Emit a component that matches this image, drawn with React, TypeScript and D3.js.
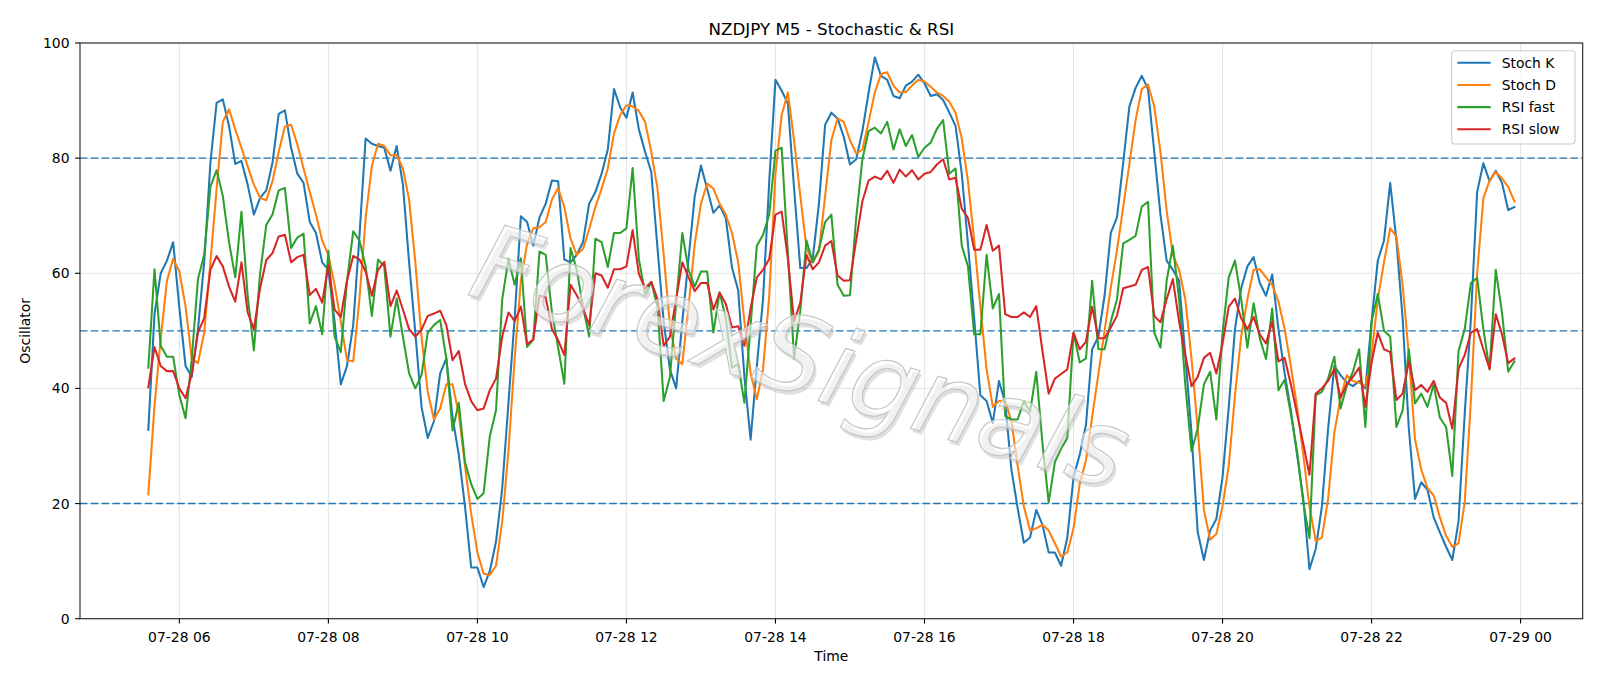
import React from "react";
import * as d3 from "d3";

// ---- data (5-minute bars, 07-28 05:35 .. 07-28 23:55) ----
const START_UTC = Date.UTC(2024, 6, 28, 5, 35);
const STEP_MINUTES = 5;

const stochK = [
  32.8, 52.9, 60, 62.2, 65.4, 54, 43.9, 42, 50.3, 61.9, 79.2, 89.6, 90.2, 85.6, 79, 79.5, 75.4, 70.2, 73.1, 74.4, 79.2, 87.7, 88.3, 81.8, 77.3, 75.7, 68.9, 67, 61.9, 60.6, 51.6, 40.7, 43.9, 51, 66.4, 83.4, 82.5, 82.1,
  81.8, 77.8, 82.1, 75.4, 61.9, 49.7, 36.8, 31.4, 34.3, 42.6, 45.2, 34.9, 28.5, 19.5, 8.9, 8.9, 5.5, 8.3, 13.4, 22.7, 37.5, 52.2, 69.9, 68.9, 64.8, 69.7, 72.1, 76.1, 76, 62.4, 61.9, 63.2, 65.4, 72.1, 74.1, 77.3, 81.5, 92,
  88.8, 87, 91.4, 85, 81.1, 77.6, 64.4, 51.6, 43.3, 40, 51.6, 62.5, 73.4, 78.7, 74.7, 70.5, 71.8, 69.6, 61, 57, 42, 31.1, 43.9, 55.5, 76, 93.6, 91.7, 89.5, 74.7, 60.9, 60.9, 62.5, 72.1, 85.8, 87.9, 86.9, 83.7,
  78.9, 79.8, 84.7, 91.4, 97.5, 94.3, 93.6, 90.8, 90.4, 92.6, 93.3, 94.5, 93, 90.8, 91.1, 90.1, 87.9, 85.6, 77.3, 65.1, 52.2, 38.8, 37.8, 34, 41.3, 37.5, 25.9, 19.2, 13.2, 14.1, 18.9, 16.3, 11.5, 11.5, 9.2, 14.1, 24.6, 28.5,
  33.6, 46.8, 49, 56.1, 67, 69.7, 79.2, 89, 92.2, 94.3, 92, 81.1, 70.2, 62.2, 60.6, 58.7, 45.8, 32.3, 15, 10.2, 15.3, 17.3, 24.6, 36.8, 50.3, 57.4, 61.2, 62.8, 58.3, 56.1, 59.8, 50.3, 42.6, 36.2, 28.5, 20.8, 8.6,
  12.1, 19.5, 33, 43.9, 42.3, 41, 40.4, 41.3, 40, 51.6, 62.2, 65.7, 75.7, 65.7, 52.2, 33, 20.8, 23.7, 22.4, 17.6, 15, 12.5, 10.2, 16.9, 35.6, 52.2, 74.1, 79.1, 76, 77.8, 75.7, 71, 71.5,
];

const stochD = [
  21.6, 37, 48.6, 58.7, 62.5, 60.3, 54.2, 45.2, 44.4, 49.7, 61.9, 74.7, 86.3, 88.5, 85, 81.8, 78.6, 75.4, 73.1, 72.7, 76, 81.1, 85.5, 85.8, 82.4, 78.2, 74.1, 70.2, 65.7, 63.2, 58, 51.6, 44.9, 44.7, 55.5, 69.6, 78.6, 82.5,
  82.1, 80.5, 80.5, 78.2, 72.8, 61.9, 49, 39.4, 34.6, 36.5, 40.7, 40.7, 35.6, 26.6, 18.2, 11.5, 7.8, 7.6, 9.2, 16.9, 29.1, 45.2, 58.7, 65.1, 67.8, 68, 68.9, 72.8, 74.8, 71.5, 66, 63.2, 64.2, 67.7, 71.5, 74.7, 78.2, 84.3,
  87.5, 89.2, 89, 88.2, 86.3, 81.1, 74.7, 63.2, 51, 45.2, 44.2, 54.2, 65.1, 72.1, 75.6, 74.7, 72.1, 70.2, 67, 61.9, 51.6, 42.6, 38.1, 43.3, 56.1, 77.3, 87.5, 91.4, 83.1, 73.4, 64.4, 61.9, 63.8, 73.4, 83.1, 86.9, 86.3,
  83.1, 80.8, 81.5, 86.3, 91.4, 94.6, 94.9, 92.6, 91.4, 91.5, 92.6, 93.6, 93.3, 92.4, 91.4, 90.8, 89.8, 87.9, 83.4, 76, 65.7, 54.2, 43.3, 36.8, 37.8, 37.8, 34.3, 26.6, 19.5, 15.3, 15.7, 16.3, 15.3, 13.1, 10.8, 11.5, 15.7, 23.4,
  27.5, 35, 42.5, 50, 57.5, 64, 71.5, 79, 86.6, 92, 92.8, 89, 81.1, 70.9, 63.2, 60.6, 55.5, 45.2, 33, 18.9, 13.7, 14.7, 19.5, 26.6, 38.8, 49, 55.5, 60.6, 60.7, 59.3, 58, 55.1, 50.3, 43.9, 36.8, 28.5, 19.5,
  13.5, 14.1, 20.8, 32.3, 38.3, 42.3, 41.3, 41, 40.4, 45.8, 55.5, 61.9, 67.8, 66.4, 58, 45.8, 31.1, 25.9, 22.7, 21.4, 17.6, 14.4, 12.5, 13.1, 20.2, 38, 60, 73, 76.1, 77.6, 76.5, 75, 72.5,
];

const rsiFast = [
  43.6, 60.7, 47.4, 45.5, 45.5, 38.8, 34.8, 45.2, 59, 63.2, 75, 77.9, 73.4, 65.4, 59.3, 70.7, 56.1, 46.6, 59.9, 68.4, 70.2, 74.4, 74.8, 64.4, 66.2, 66.9, 51.3, 54.3, 49.4, 63.9, 49, 46.3, 58.7, 67.3, 65.7, 61.2, 52.6, 62.4,
  61.2, 49, 55.6, 49, 42.6, 40, 42.3, 49.7, 51, 51.9, 45.2, 32.7, 37.5, 27.2, 23.4, 20.8, 21.8, 31.7, 36.2, 55.5, 62.5, 58, 62.6, 47.2, 48.5, 63.8, 63.2, 53.2, 47.1, 40.8, 64.4, 60.6, 54.2, 49, 66, 65.4, 61.1, 67,
  67, 67.8, 78.3, 62.5, 56.4, 58.5, 54.2, 37.8, 42, 54.8, 67, 60.6, 57.7, 60.3, 60.3, 49.7, 56.7, 52.2, 43.6, 44.2, 37.5, 51, 64.8, 66.7, 70.2, 81.3, 81.8, 63.5, 45.2, 53.5, 65.7, 61.9, 64.1, 68.9, 70.2, 58, 56.1,
  56.2, 69.6, 79.8, 84.7, 85.3, 84.3, 86.3, 81.5, 85, 82.1, 84, 80.2, 81.8, 82.7, 85.1, 86.6, 77.3, 78.2, 64.8, 61.2, 49.4, 49.4, 63.2, 53.9, 56.4, 35.2, 34.6, 34.6, 37.8, 35.9, 42.9, 30.4, 20.2, 27.2, 29.5, 31.4, 49.7, 44.5,
  45.2, 58.7, 46.8, 46.8, 51.6, 55.5, 65.2, 65.8, 66.5, 71.6, 72.4, 49.7, 47.1, 58.7, 64.8, 55.5, 40.7, 29.1, 33, 40.7, 42.9, 34.6, 49.7, 59.3, 62.2, 55.5, 47.1, 54.8, 48.7, 45.1, 53.9, 39.7, 41.5, 35.6, 29.1, 20.2, 14,
  38.8, 39.4, 41.7, 45.5, 36.5, 40.4, 42.9, 46.8, 33.3, 51.6, 56.4, 50, 49, 33.3, 36.2, 46.8, 37.4, 39.1, 36.8, 40.7, 34.9, 33.3, 24.8, 46.5, 50.3, 58.3, 59.2, 50.3, 43.3, 60.6, 53.2, 42.9, 44.7,
];

const rsiSlow = [
  40.2, 47.2, 43.9, 43, 43, 40, 38.3, 42.6, 49.7, 52.2, 60.6, 63, 61.2, 57.7, 55.1, 61.9, 53.2, 50.3, 57.4, 62.3, 63.5, 66.4, 66.7, 61.9, 62.8, 63.2, 56.2, 57.3, 54.9, 61.4, 53.7, 52.4, 58.7, 63, 62.4, 60.3, 56.1, 60.6,
  62, 54.3, 57, 53.7, 50.3, 49, 50.2, 52.6, 53, 53.5, 51, 44.9, 46.5, 40.8, 37.8, 36.2, 36.5, 39.7, 41.7, 49, 53.2, 51.7, 54.2, 47.7, 48.5, 56.1, 55.8, 50.3, 48.4, 45.8, 58, 56.2, 53.9, 51, 60, 59.6, 57.5, 60.7,
  60.7, 61.2, 67.5, 59.9, 57.4, 58.5, 55.5, 47.4, 49, 55.5, 61.9, 59.3, 56.9, 58.3, 58.3, 53.7, 56.6, 54.7, 50.6, 50.8, 47.4, 53.9, 59.3, 60.6, 62.5, 70.2, 70.7, 62.5, 51.6, 54.9, 63.2, 60.7, 61.9, 64.8, 65.6, 59.6, 58.7,
  58.8, 65.7, 72.5, 76.1, 76.8, 76.3, 77.8, 75.7, 78, 76.8, 77.9, 76.3, 77.3, 77.6, 78.9, 79.8, 76.3, 76.6, 71.2, 69.6, 64.1, 64.1, 68.4, 63.9, 64.8, 52.9, 52.4, 52.4, 53.2, 52.4, 54.3, 46.5, 39.1, 41.7, 42.5, 43.3, 49.7, 46.8,
  48.1, 54.2, 48.7, 48.7, 50.6, 52.6, 57.4, 57.7, 58, 60.6, 61.1, 52.6, 51.5, 55.5, 59, 51.6, 45.8, 40.4, 42, 45.3, 46.2, 42.6, 47.8, 54.2, 55.6, 52.2, 50.3, 52.4, 49.4, 47.8, 51.6, 44.7, 45.3, 40.7, 35.6, 30.4, 25,
  39.1, 40, 41.3, 43.4, 38.4, 40.7, 42, 43.6, 36.8, 44.5, 49.7, 46.8, 46.3, 38, 39.1, 44.7, 39.7, 40.6, 39.4, 41.3, 38.4, 37.5, 33, 43.4, 45.8, 49.7, 50.3, 46.8, 43.4, 52.9, 49.4, 44.4, 45.2,
];

const seriesNames = ["Stoch K", "Stoch D", "RSI fast", "RSI slow"];
const seriesColors = ["#1f77b4", "#ff7f0e", "#2ca02c", "#d62728"];
const levelLines = [80, 50, 20];
const yTickValues = [0, 20, 40, 60, 80, 100];
const titleText = "NZDJPY M5 - Stochastic & RSI";
const xLabelText = "Time";
const yLabelText = "Oscillator";
const watermarkText = "ForexSignals";

const W = 1600;
const H = 686;
const PL = 80;
const PR = 1582.7;
const PT = 43;
const PB = 618.7;
const FONT = "'DejaVu Sans', sans-serif";

export default function App() {
  const series = [stochK, stochD, rsiFast, rsiSlow];
  const times = stochK.map((_, i) => new Date(START_UTC + i * STEP_MINUTES * 60000));
  const t0 = +times[0];
  const t1 = +times[times.length - 1];
  const pad = (t1 - t0) * 0.05;
  const x = d3.scaleUtc().domain([new Date(t0 - pad), new Date(t1 + pad)]).range([PL, PR]);
  const y = d3.scaleLinear().domain([0, 100]).range([PB, PT]);
  const xTicks = x.ticks(d3.utcHour.every(2) as any);
  const fmt = d3.utcFormat("%m-%d %H");
  const lineGen = (vals: number[]) =>
    d3.line<number>().x((_, i) => x(times[i])).y((d) => y(d))(vals) || "";

  const legendX = 1451.7;
  const legendY = 50.7;
  const legendRowH = 22.2;

  // watermark placement
  const wmX = 790;
  const wmY = 392;
  const wmAngle = 16.8;

  return (
    <svg
      width={W}
      height={H}
      viewBox={`0 0 ${W} ${H}`}
      style={{ position: "absolute", left: 0, top: 0, background: "#fff" }}
      fontFamily={FONT}
    >
      <rect x={0} y={0} width={W} height={H} fill="#fff" />
      <defs>
        <clipPath id="plot">
          <rect x={PL} y={PT} width={PR - PL} height={PB - PT} />
        </clipPath>
      </defs>
      {/* grid */}
      <g stroke="#e6e6e6" strokeWidth={1.1}>
        {xTicks.map((t, i) => (
          <line key={"gx" + i} x1={x(t)} x2={x(t)} y1={PT} y2={PB} />
        ))}
        {yTickValues.map((v) => (
          <line key={"gy" + v} x1={PL} x2={PR} y1={y(v)} y2={y(v)} />
        ))}
      </g>
      {/* level lines */}
      <g stroke="#1f77b4" strokeWidth={1.4} strokeDasharray="7.5,3.3">
        {levelLines.map((v) => (
          <line key={"lv" + v} x1={PL} x2={PR} y1={y(v)} y2={y(v)} />
        ))}
      </g>
      {/* series */}
      <g clipPath="url(#plot)" fill="none" strokeWidth={2.05} strokeLinejoin="round" strokeLinecap="square">
        {series.map((vals, k) => (
          <path key={"s" + k} d={lineGen(vals)} stroke={seriesColors[k]} />
        ))}
      </g>
      {/* watermark */}
      <g transform={`rotate(${wmAngle}, ${wmX}, ${wmY})`} fontSize={106} fontStyle="italic" textAnchor="middle">
        <text x={wmX + 3} y={wmY + 3} fill="#a8a8a8" opacity={0.35}>
          {watermarkText}
        </text>
        <text x={wmX} y={wmY} fill="#ffffff" fillOpacity={0.55} stroke="#c6c6c6" strokeWidth={1.2}>
          {watermarkText}
        </text>
      </g>
      {/* spines */}
      <rect x={PL} y={PT} width={PR - PL} height={PB - PT} fill="none" stroke="#222" strokeWidth={1.1} />
      {/* x ticks */}
      <g fontSize={13.9} fill="#000" textAnchor="middle">
        {xTicks.map((t, i) => (
          <g key={"xt" + i}>
            <line x1={x(t)} x2={x(t)} y1={PB} y2={PB + 4.9} stroke="#000" strokeWidth={1.1} />
            <text x={x(t)} y={641.5}>{fmt(t)}</text>
          </g>
        ))}
      </g>
      {/* y ticks */}
      <g fontSize={13.9} fill="#000" textAnchor="end">
        {yTickValues.map((v) => (
          <g key={"yt" + v}>
            <line x1={PL - 4.9} x2={PL} y1={y(v)} y2={y(v)} stroke="#000" strokeWidth={1.1} />
            <text x={69.5} y={y(v) + 5}>{v}</text>
          </g>
        ))}
      </g>
      {/* labels */}
      <text x={(PL + PR) / 2} y={34.5} fontSize={16.7} textAnchor="middle" fill="#000">
        {titleText}
      </text>
      <text x={(PL + PR) / 2} y={661} fontSize={13.9} textAnchor="middle" fill="#000">
        {xLabelText}
      </text>
      <text
        transform={`translate(29.5, ${(PT + PB) / 2}) rotate(-90)`}
        fontSize={13.9}
        textAnchor="middle"
        fill="#000"
      >
        {yLabelText}
      </text>
      {/* legend */}
      <g>
        <rect
          x={legendX}
          y={legendY}
          width={123.3}
          height={93.3}
          rx={3}
          fill="#fff"
          fillOpacity={0.8}
          stroke="#cccccc"
          strokeWidth={1.1}
        />
        {seriesNames.map((name, k) => {
          const cy = legendY + 12 + k * legendRowH;
          return (
            <g key={"lg" + k}>
              <line x1={1457.3} x2={1490.7} y1={cy} y2={cy} stroke={seriesColors[k]} strokeWidth={2.05} />
              <text x={1501.7} y={cy + 5} fontSize={13.9} fill="#000">
                {name}
              </text>
            </g>
          );
        })}
      </g>
    </svg>
  );
}
